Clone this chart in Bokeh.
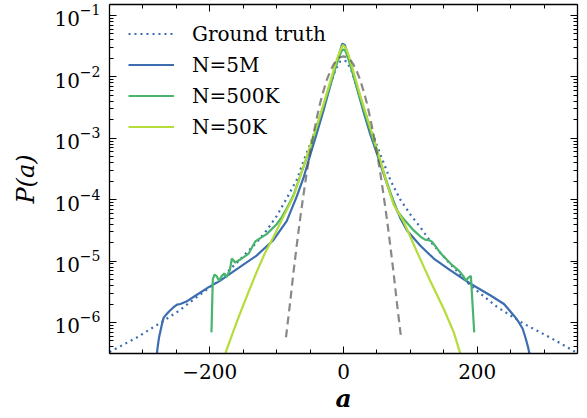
from bokeh.plotting import figure
from bokeh.models import (LinearAxis, LogAxis, SingleIntervalTicker, LogTicker, Range1d,
                          Legend, LegendItem, ColumnDataSource, CustomJSTickFormatter)
from bokeh.embed import file_html
from bokeh.resources import INLINE

# ---------------- data ----------------
gt_a = [-350, -310, -270, -245, -220, -190, -160, -130, -115, -100, -85, -70, -60, -50, -40, -30,
        -20, -12, -5, 0, 5, 12, 20, 30, 40, 50, 60, 70, 85, 100, 115, 130, 155, 190, 230, 270, 310, 350]
gt_p = [3.31e-7, 5.62e-7, 1.05e-6, 1.58e-6, 2.57e-6, 4.47e-6, 9.3e-6, 2.0e-5, 3.16e-5, 5.4e-5, 1.05e-4,
        2.1e-4, 4.2e-4, 7.9e-4, 1.58e-3, 3.4e-3, 7.1e-3, 1.32e-2, 1.78e-2, 1.86e-2, 1.78e-2, 1.26e-2,
        6.8e-3, 3.2e-3, 1.51e-3, 7.6e-4, 4.0e-4, 2.1e-4, 1.0e-4, 5.75e-5, 3.55e-5, 2.09e-5, 1.02e-5,
        3.98e-6, 1.78e-6, 9.5e-7, 5.62e-7, 3.16e-7]

n5m_a = [-283, -281, -278, -276, -272, -269, -265, -261, -255, -249, -244, -235, -221, -201, -186, -165,
         -130, -105, -85, -70, -60, -50, -40, -30, -20, -10, -5, -2, 2, 5, 10, 20, 30, 40, 50, 60, 70,
         85, 95, 115, 135, 160, 190, 220, 240, 255, 262, 268, 272, 276, 280, 283]
n5m_p = [1.26e-7, 2.0e-7, 3.98e-7, 5.62e-7, 8.9e-7, 1.20e-6, 1.35e-6, 1.51e-6, 1.74e-6, 1.95e-6, 2.0e-6,
         2.19e-6, 2.75e-6, 3.8e-6, 4.68e-6, 6.76e-6, 1.23e-5, 2.19e-5, 4.47e-5, 1.12e-4, 2.24e-4,
         5.25e-4, 1.20e-3, 2.82e-3, 7.08e-3, 1.74e-2, 2.63e-2, 3.47e-2, 3.31e-2, 2.63e-2, 1.66e-2,
         6.6e-3, 2.69e-3, 1.17e-3, 5.6e-4, 2.63e-4, 1.26e-4, 5.0e-5, 3.16e-5, 1.78e-5, 1.10e-5, 7.08e-6,
         4.27e-6, 2.75e-6, 2.0e-6, 1.29e-6, 1.02e-6, 7.9e-7, 5.75e-7, 3.98e-7, 2.51e-7, 1.26e-7]

n500k_a = [-197.5, -195.5, -193, -190, -186, -182, -178, -175, -170, -167, -162, -155, -142, -132, -125,
           -115, -100, -92, -85, -75, -65, -55, -45, -35, -25, -15, -8, -3, 0, 3, 8, 15, 25, 35, 45, 55,
           65, 75, 80, 92, 105, 115, 122, 128, 132, 137, 145, 160, 172, 179, 183, 187, 190.5, 193, 195.5]
n500k_p = [6.9e-7, 5.0e-6, 6.0e-6, 5.75e-6, 4.8e-6, 5.75e-6, 6.3e-6, 5.5e-6, 7.1e-6, 1.10e-5, 9.5e-6,
           1.05e-5, 1.32e-5, 2.09e-5, 2.34e-5, 2.75e-5, 3.98e-5, 5.25e-5, 7.2e-5, 1.17e-4, 2.4e-4, 4.8e-4,
           1.0e-3, 2.24e-3, 5.0e-3, 1.12e-2, 1.91e-2, 2.63e-2, 2.82e-2, 2.63e-2, 1.86e-2, 1.05e-2, 4.47e-3,
           2.0e-3, 9.1e-4, 4.17e-4, 1.91e-4, 9.1e-5, 6.6e-5, 4.57e-5, 3.16e-5, 2.51e-5, 2.24e-5, 2.19e-5,
           2.09e-5, 1.78e-5, 1.35e-5, 9.1e-6, 7.1e-6, 5.75e-6, 4.8e-6, 5.4e-6, 5.75e-6, 2.0e-6, 6.9e-7]

n50k_a = [-179, -176, -165, -155, -142, -130, -118, -105, -90, -75, -65, -52, -40, -30, -20, -10, -5, -1,
          3, 8, 15, 25, 35, 45, 55, 65, 75, 90, 110, 130, 150, 165, 174, 177]
n50k_p = [2.0e-7, 3.3e-7, 7.1e-7, 1.38e-6, 3.16e-6, 6.6e-6, 1.32e-5, 2.45e-5, 5.25e-5, 1.12e-4, 2.34e-4,
          6.3e-4, 1.58e-3, 3.55e-3, 8.3e-3, 1.91e-2, 2.69e-2, 3.31e-2, 3.02e-2, 2.19e-2, 1.20e-2, 5.0e-3,
          2.24e-3, 1.0e-3, 4.37e-4, 1.82e-4, 8.3e-5, 4.37e-5, 1.41e-5, 4.68e-6, 1.66e-6, 6.9e-7, 3.3e-7,
          2.0e-7]

gauss_a = [-86, -80, -75, -70, -65, -60, -55, -50, -45, -40, -35, -30, -25, -20, -15, -10, -5, 0,
           5, 10, 15, 20, 25, 30, 35, 40, 45, 50, 55, 60, 65, 70, 75, 80, 86]
gauss_p = [5.75e-7, 2.04e-6, 6.3e-6, 1.78e-5, 4.79e-5, 1.17e-4, 2.75e-4, 5.9e-4, 1.15e-3, 2.14e-3,
           3.72e-3, 5.9e-3, 8.9e-3, 1.23e-2, 1.58e-2, 1.91e-2, 2.09e-2, 2.16e-2, 2.09e-2, 1.91e-2,
           1.58e-2, 1.23e-2, 8.9e-3, 5.9e-3, 3.72e-3, 2.14e-3, 1.15e-3, 5.9e-4, 2.75e-4, 1.17e-4,
           4.79e-5, 1.78e-5, 6.3e-6, 2.04e-6, 5.75e-7]

legend_labels = ["Ground truth", "N=5M", "N=500K", "N=50K"]
x_tick_labels = {-200: "\u2212200", 0: "0", 200: "200"}
x_title = "a"
y_title = "P(a)"

# ---------------- figure ----------------
FONT = "DejaVu Serif"
BLUE = "#3c6db0"
GREEN = "#48b46c"
LIME = "#b5dc38"

p = figure(width=587, height=418, x_range=Range1d(-350, 350),
           y_range=Range1d(10 ** -6.505, 10 ** -0.821), y_axis_type="log",
           output_backend="svg", toolbar_location=None,
           min_border_left=109, min_border_right=10, min_border_top=4, min_border_bottom=65)
p.grid.visible = False
p.outline_line_color = None
p.background_fill_color = "white"
p.border_fill_color = "white"

xt = SingleIntervalTicker(interval=200, num_minor_ticks=4)
yt = LogTicker(num_minor_ticks=10)

def style(ax):
    ax.major_tick_in = 7
    ax.major_tick_out = 0
    ax.minor_tick_in = 4
    ax.minor_tick_out = 0
    ax.axis_line_color = "black"
    ax.axis_line_width = 1.3
    ax.major_tick_line_color = "black"
    ax.minor_tick_line_color = "black"
    ax.major_tick_line_width = 1
    ax.minor_tick_line_width = 1
    ax.major_label_text_font = FONT
    ax.major_label_text_font_size = "20px"
    ax.major_label_text_color = "black"

xa = p.xaxis[0]
ya = p.yaxis[0]
style(xa)
style(ya)
xa.ticker = xt
xa.major_label_overrides = x_tick_labels
xa.major_label_standoff = 10
xa.axis_label = x_title
xa.axis_label_text_font = FONT
xa.axis_label_text_font_style = "bold italic"
xa.axis_label_text_font_size = "25px"
xa.axis_label_standoff = 2
xa.axis_label_text_color = "black"

ya.ticker = yt
ya.major_label_standoff = 9
ya.axis_label = y_title
ya.axis_label_text_font = FONT
ya.axis_label_text_font_style = "italic"
ya.axis_label_text_font_size = "24px"
ya.axis_label_standoff = 11
ya.axis_label_text_color = "black"

top = LinearAxis(ticker=xt, formatter=CustomJSTickFormatter(code="return ''"))
right = LogAxis(ticker=yt, formatter=CustomJSTickFormatter(code="return ''"))
for ax in (top, right):
    style(ax)
    ax.major_label_text_font_size = "0px"
    ax.major_label_standoff = 0
p.add_layout(top, "above")
p.add_layout(right, "right")

src_gt = ColumnDataSource(dict(a=gt_a, p=gt_p))
src_5m = ColumnDataSource(dict(a=n5m_a, p=n5m_p))
src_500k = ColumnDataSource(dict(a=n500k_a, p=n500k_p))
src_50k = ColumnDataSource(dict(a=n50k_a, p=n50k_p))
src_g = ColumnDataSource(dict(a=gauss_a, p=gauss_p))

r_gt = p.line("a", "p", source=src_gt, color=BLUE, line_width=2.2, line_dash="2 4")
r_5m = p.line("a", "p", source=src_5m, color=BLUE, line_width=2.2)
r_500k = p.line("a", "p", source=src_500k, color=GREEN, line_width=2.2)
r_50k = p.line("a", "p", source=src_50k, color=LIME, line_width=2.2)
r_g = p.line("a", "p", source=src_g, color="#555555", line_alpha=0.7, line_width=2.2, line_dash="8 5")

legend = Legend(items=[LegendItem(label=l, renderers=[r]) for l, r in
                       zip(legend_labels, [r_gt, r_5m, r_500k, r_50k])],
                location=(19, 211))
legend.border_line_alpha = 0
legend.background_fill_alpha = 0
legend.label_text_font = FONT
legend.label_text_font_size = "20px"
legend.label_text_color = "black"
legend.glyph_width = 46
legend.glyph_height = 31
legend.label_height = 31
legend.label_standoff = 18
legend.spacing = 0
legend.padding = 0
legend.margin = 0
p.add_layout(legend)

open("out.html", "w").write(file_html(p, INLINE))
